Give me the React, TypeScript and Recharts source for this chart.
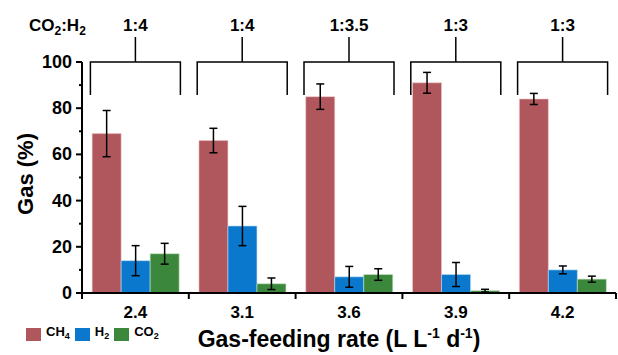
import { Bar, BarChart, ErrorBar, XAxis, YAxis } from "recharts";

const categories = ["2.4", "3.1", "3.6", "3.9", "4.2"];
const ratios = ["1:4", "1:4", "1:3.5", "1:3", "1:3"];
const ch4 = [69, 66, 85, 91, 84];
const ch4Err = [10, 5.3, 5.5, 4.5, 2.4];
const h2 = [14, 29, 7, 8, 10];
const h2Err = [6.5, 8.5, 4.5, 5.2, 1.7];
const co2 = [17, 4, 8, 1, 6];
const co2Err = [4.5, 2.5, 2.5, 0.6, 1.3];
const yTicks = [0, 10, 20, 30, 40, 50, 60, 70, 80, 90, 100];

const data = categories.map((c, i) => ({
  rate: c,
  ratio: ratios[i],
  ch4: ch4[i],
  ch4Err: ch4Err[i],
  h2: h2[i],
  h2Err: h2Err[i],
  co2: co2[i],
  co2Err: co2Err[i],
}));

const W = 618;
const H = 355;
const margin = { top: 0, right: 2, bottom: 0, left: 22 };
const yAxisWidth = 60;
const bandHalf = (W - margin.left - yAxisWidth - margin.right) / categories.length / 2;

const font = "Arial, 'Liberation Sans', sans-serif";
const colors = { ch4: "#b0565d", h2: "#0a78cc", co2: "#3b873b" };

// y ticks: every 10, labels only on the 20s, minor marks shorter
function YTick({ x, y, payload }: any) {
  const major = payload.value % 20 === 0;
  return (
    <g>
      <line x1={x} x2={x - (major ? 6 : 3)} y1={y} y2={y} stroke="#000" strokeWidth={2} />
      {major && (
        <text x={x - 10} y={y} dy={6} textAnchor="end" fontSize={18} fontWeight="bold" fontFamily={font} fill="#000">
          {payload.value}
        </text>
      )}
    </g>
  );
}

// category labels centred, tick marks on the band edges
function XTick({ x, y, payload, index }: any) {
  return (
    <g>
      {index === 0 && <line x1={x - bandHalf} x2={x - bandHalf} y1={y} y2={y + 6} stroke="#000" strokeWidth={2} />}
      <line x1={x + bandHalf} x2={x + bandHalf} y1={y} y2={y + 6} stroke="#000" strokeWidth={2} />
      <text x={x} y={y + 25} textAnchor="middle" fontSize={17} fontWeight="bold" fontFamily={font} fill="#000">
        {payload.value}
      </text>
    </g>
  );
}

// bracket over each group with the CO2:H2 ratio on top
function BracketTick({ x, y, payload }: any) {
  const half = 45;
  return (
    <g stroke="#000" strokeWidth={1.5} fill="none">
      <path d={`M${x - half},${y + 33} V${y} H${x + half} V${y + 33}`} />
      <line x1={x} x2={x} y1={y} y2={y - 25} />
      <text x={x} y={y - 31} textAnchor="middle" fontSize={17} fontWeight="bold" fontFamily={font} fill="#000" stroke="none">
        {payload.value}
      </text>
    </g>
  );
}

function RatioTitle() {
  return (
    <text x={29} y={31} fontSize={17} fontWeight="bold" fontFamily={font} fill="#000">
      CO<tspan dy={4} fontSize={12}>2</tspan>
      <tspan dy={-4}>:H</tspan>
      <tspan dy={4} fontSize={12}>2</tspan>
    </text>
  );
}

function XTitle({ viewBox }: any) {
  const cx = viewBox.x + viewBox.width / 2 - 10;
  return (
    <text x={cx} y={347} textAnchor="middle" fontSize={23} fontWeight="bold" fontFamily={font} fill="#000">
      Gas-feeding rate (L L<tspan dy={-9} fontSize={14}>-1</tspan>
      <tspan dy={9}> d</tspan>
      <tspan dy={-9} fontSize={14}>-1</tspan>
      <tspan dy={9}>)</tspan>
    </text>
  );
}

function YTitle() {
  return (
    <text
      x={25}
      y={174}
      transform="rotate(-90 25 174)"
      dy={8}
      textAnchor="middle"
      fontSize={22}
      fontWeight="bold"
      fontFamily={font}
      fill="#000"
    >
      Gas (%)
    </text>
  );
}

const legendItems = [
  { key: "ch4", base: "CH", sub: "4" },
  { key: "h2", base: "H", sub: "2" },
  { key: "co2", base: "CO", sub: "2" },
];

export default function App() {
  return (
    <div style={{ position: "absolute", left: 0, top: 0, width: W, height: H, background: "#fff" }}>
      <BarChart width={W} height={H} data={data} margin={margin} barCategoryGap="9.5%" barGap={0}>
        <XAxis
          xAxisId="top"
          orientation="top"
          dataKey="ratio"
          height={62}
          axisLine={false}
          tickLine={false}
          tickSize={0}
          tickMargin={0}
          tick={<BracketTick />}
          interval={0}
          label={<RatioTitle />}
        />
        <XAxis
          dataKey="rate"
          height={62}
          axisLine={{ stroke: "#000", strokeWidth: 2 }}
          tickLine={false}
          tickSize={0}
          tickMargin={0}
          tick={<XTick />}
          interval={0}
          label={<XTitle />}
        />
        <YAxis
          width={yAxisWidth}
          domain={[0, 100]}
          ticks={yTicks}
          interval={0}
          axisLine={{ stroke: "#000", strokeWidth: 2 }}
          tickLine={false}
          tickSize={0}
          tickMargin={0}
          tick={<YTick />}
          label={<YTitle />}
        />
        <Bar dataKey="ch4" fill={colors.ch4} stroke="#f2c8cb" strokeWidth={0.6} isAnimationActive={false}>
          <ErrorBar dataKey="ch4Err" width={4} stroke="#000" strokeWidth={1.5} />
        </Bar>
        <Bar dataKey="h2" fill={colors.h2} stroke="#b8dcf5" strokeWidth={0.6} isAnimationActive={false}>
          <ErrorBar dataKey="h2Err" width={4} stroke="#000" strokeWidth={1.5} />
        </Bar>
        <Bar dataKey="co2" fill={colors.co2} stroke="#c4e2c4" strokeWidth={0.6} isAnimationActive={false}>
          <ErrorBar dataKey="co2Err" width={4} stroke="#000" strokeWidth={1.5} />
        </Bar>
      </BarChart>
      <div
        style={{
          position: "absolute",
          left: 26,
          top: 325,
          display: "flex",
          alignItems: "center",
          fontFamily: font,
          fontSize: 13,
          fontWeight: "bold",
          lineHeight: "14px",
        }}
      >
        {legendItems.map((it) => (
          <div key={it.key} style={{ display: "flex", alignItems: "center", marginRight: 5 }}>
            <span style={{ display: "inline-block", width: 15, height: 13, background: (colors as any)[it.key], marginRight: 5 }} />
            <span>
              {it.base}
              <sub style={{ fontSize: 9, verticalAlign: "-3px" }}>{it.sub}</sub>
            </span>
          </div>
        ))}
      </div>
    </div>
  );
}
